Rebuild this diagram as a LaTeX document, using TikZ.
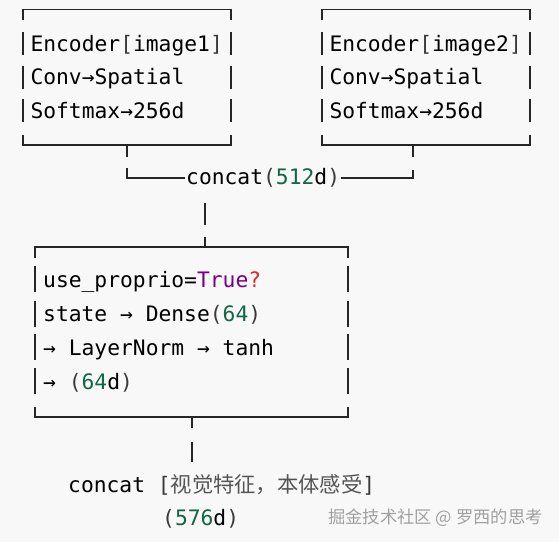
\documentclass[tikz,border=0pt]{standalone}
\usepackage{fontspec}
\setmonofont{DejaVu Sans Mono}
\newfontfamily\cjk{Noto Sans CJK SC}
\usepackage{xcolor}
\usepackage{tikz}
\definecolor{codebg}{HTML}{F8F8F8}
\definecolor{numgreen}{HTML}{116644}
\definecolor{kwpurple}{HTML}{770088}
\definecolor{opred}{HTML}{E0262A}
\definecolor{brgray}{HTML}{3A3A3A}
\definecolor{zhgray}{HTML}{555555}
\definecolor{markgray}{HTML}{A0A0A0}
\newcommand{\num}[1]{\textcolor{numgreen}{#1}}
\newcommand{\brk}[1]{\textcolor{brgray}{#1}}

\begin{document}
\begin{tikzpicture}[x=1pt, y=-1pt,
    frame/.style={line width=1.6pt, black!85},
    link/.style={line width=1.6pt, black!85},
    row/.style={anchor=base west, inner sep=0pt,
                font=\ttfamily\fontsize{21.3}{25}\selectfont},
]
\fill[codebg] (0,0) rectangle (559,542);
\useasboundingbox (0,0) rectangle (559,542);
% image encoders
\foreach \name/\xl/\xr/\img in {enc1/23/231/1, enc2/322/530/2} {
  \draw[frame] (\xl,20) -- (\xl,9.5) -- (\xr,9.5) -- (\xr,20);
  \draw[frame] (\xl,135) -- (\xl,145) -- (\xr,145) -- (\xr,135);
  \foreach \yb in {51,84.5,118}
    \draw[frame] (\xl,\yb-19) -- (\xl,\yb+4) (\xr,\yb-19) -- (\xr,\yb+4);
  \node[row] (\name-1) at (\xl+7.3,51)   {Encoder\brk{[}image\img\brk{]}};
  \node[row] (\name-2) at (\xl+7.3,84.5) {Conv→Spatial};
  \node[row] (\name-3) at (\xl+7.3,118)  {Softmax→256d};
}
\coordinate (enc1-out) at (127,145);
\coordinate (enc2-out) at (413,145);
\node[row, anchor=west, inner sep=1pt] (cat512) at (185,178)
  {concat\brk{(}\num{512}d\brk{)}};
\draw[link, dash pattern=on 12pt off 11pt on 200pt] (enc1-out) |- (cat512.west);
\draw[link, dash pattern=on 12pt off 13pt on 200pt] (enc2-out) |- (cat512.east);
% proprioception branch
\draw[frame] (35,258) -- (35,247) -- (348,247) -- (348,258);
\draw[frame] (35,407) -- (35,417) -- (348,417) -- (348,407);
\foreach \yb in {287.3,321.5,355.3,389}
  \draw[frame] (35,\yb-21) -- (35,\yb+5) (348,\yb-21) -- (348,\yb+5);
\node[row] (prop-1) at (43,287.3) {use\_proprio=\textcolor{kwpurple}{True}\textcolor{opred}{?}};
\node[row] (prop-2) at (43,321.5) {state → Dense\brk{(}\num{64}\brk{)}};
\node[row] (prop-3) at (43,355.3) {→ LayerNorm → tanh};
\node[row] (prop-4) at (43,389)   {→ \brk{(}\num{64}d\brk{)}};
\coordinate (cat-down) at (205,203);
\coordinate (prop-in)  at (205,247);
\coordinate (prop-out) at (192,417);
\coordinate (fuse-in)  at (192,462);
\draw[link, dash pattern=on 22pt off 12pt on 30pt] (cat-down) -- (prop-in);
\draw[link, dash pattern=on 11pt off 14pt on 30pt] (prop-out) -- (fuse-in);
% fused output
\node[row] (fuse) at (68,492)
  {concat \brk{[}{\cjk\color{zhgray}视觉特征，本体感受}\brk{]}};
\node[row] (fuse-dim) at (162,525) {\brk{(}\num{576}d\brk{)}};
\node[anchor=base west, inner sep=0pt, text=markgray,
      font=\cjk\fontsize{17.3}{19}\selectfont] (mark) at (328,523)
  {掘金技术社区 @ 罗西的思考};
\end{tikzpicture}
\end{document}
